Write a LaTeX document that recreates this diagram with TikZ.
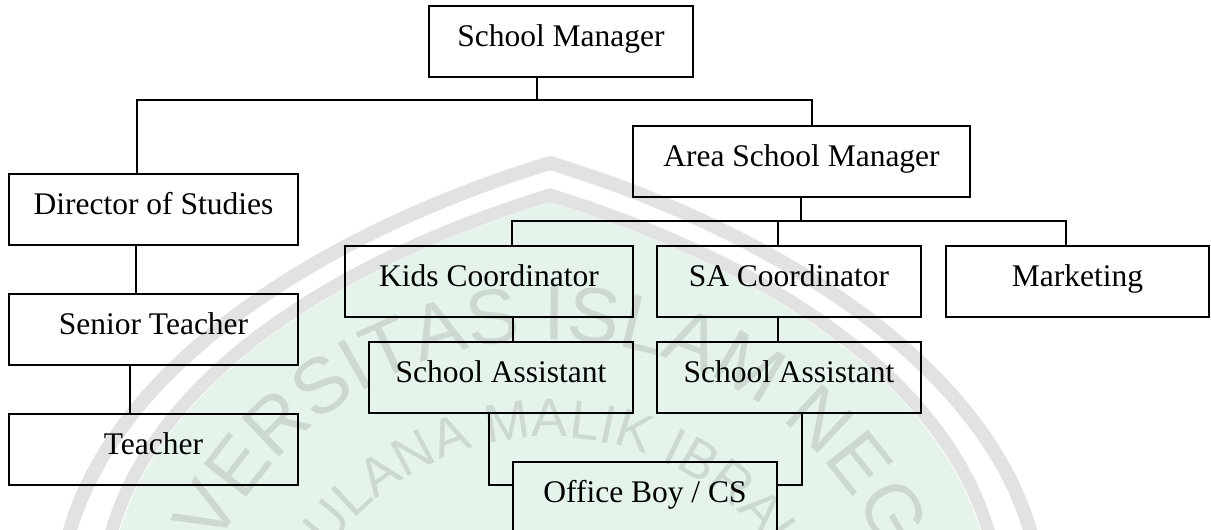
\documentclass[tikz,border=0pt]{standalone}
\usepackage{fontspec}
\setmainfont{Liberation Serif}
\newfontfamily\wmfont{Liberation Sans}
\usetikzlibrary{decorations.text}
\definecolor{wmgreen}{RGB}{229,243,235}
\definecolor{wmband}{RGB}{226,226,226}
\definecolor{wmtext}{RGB}{204,216,208}
\begin{document}
\begin{tikzpicture}[x=1pt,y=1pt,
  orgbox/.style={draw, line width=1.8pt, inner sep=0pt, minimum width=264pt,
    text height=41pt, text depth=30pt, anchor=north,
    font=\fontsize{31.5}{36}\selectfont},
  link/.style={line width=1.8pt},
  band/.style={draw=wmband, line join=miter}]
\useasboundingbox (0,0) rectangle (1211,530);

% background seal
\begin{scope}
  \clip (0,0) rectangle (1211,530);
  \fill[wmgreen] (120,-10) -- (120,0) .. controls (168,156) and (350,266) .. (550,328)
    .. controls (750,266) and (932,156) .. (980,0) -- (980,-10) -- cycle;
  \draw[band, line width=13pt] (105,-30) -- (112,0) .. controls (160,160) and (345,272) .. (550,335)
    .. controls (755,272) and (940,160) .. (988,0) -- (995,-30);
  \draw[band, line width=14pt] (62,-30) -- (70,0) .. controls (120,170) and (330,300) .. (550,367)
    .. controls (770,300) and (980,170) .. (1030,0) -- (1038,-30);
  \path[decorate, decoration={text along path, text align=center, text color=wmtext,
      text={|\wmfont\fontsize{78}{78}\selectfont|UNIVERSITAS ISLAM NEGERI}}]
    (550,-180) ++(200:370) arc[start angle=200, end angle=-20, radius=370];
  \path[decorate, decoration={text along path, text align=center, text color=wmtext,
      text={|\wmfont\fontsize{54}{54}\selectfont|MAULANA MALIK IBRAHIM}}]
    (550,-180) ++(200:273) arc[start angle=200, end angle=-20, radius=273];
\end{scope}

% boxes
\node[orgbox] (sm) at (561,525) {School Manager};
\node[orgbox, minimum width=289pt] (dos) at (153.5,357) {Director of Studies};
\node[orgbox, minimum width=289pt] (st) at (153.5,237) {Senior Teacher};
\node[orgbox, minimum width=289pt] (tc) at (153.5,117) {Teacher};
\node[orgbox, minimum width=337pt] (asm) at (801.5,405) {Area School Manager};
\node[orgbox, minimum width=288pt] (kc) at (489,285) {Kids Coordinator};
\node[orgbox] (sac) at (789,285) {SA Coordinator};
\node[orgbox, minimum width=263pt] (mk) at (1077.5,285) {Marketing};
\node[orgbox] (sa1) at (501,189) {School Assistant};
\node[orgbox] (sa2) at (789,189) {School Assistant};
\node[orgbox] (ob) at (645,69) {Office Boy / CS};

% connectors
\draw[link] (537,0 |- sm.south) -- (537,430);
\draw[link] (137,0 |- dos.north) |- (812,430) -- (812,0 |- asm.north);
\draw[link] (136,0 |- dos.south) -- (136,0 |- st.north);
\draw[link] (130,0 |- st.south) -- (130,0 |- tc.north);
\draw[link] (801,0 |- asm.south) -- (801,309);
\draw[link] (512,0 |- kc.north) |- (1066,309) -- (1066,0 |- mk.north);
\draw[link] (778,309) -- (778,0 |- sac.north);
\draw[link] (513,0 |- kc.south) -- (513,0 |- sa1.north);
\draw[link] (778,0 |- sac.south) -- (778,0 |- sa2.north);
\draw[link] (489,0 |- sa1.south) |- (ob.west |- 0,45);
\draw[link] (802,0 |- sa2.south) |- (ob.east |- 0,45);
\end{tikzpicture}
\end{document}
